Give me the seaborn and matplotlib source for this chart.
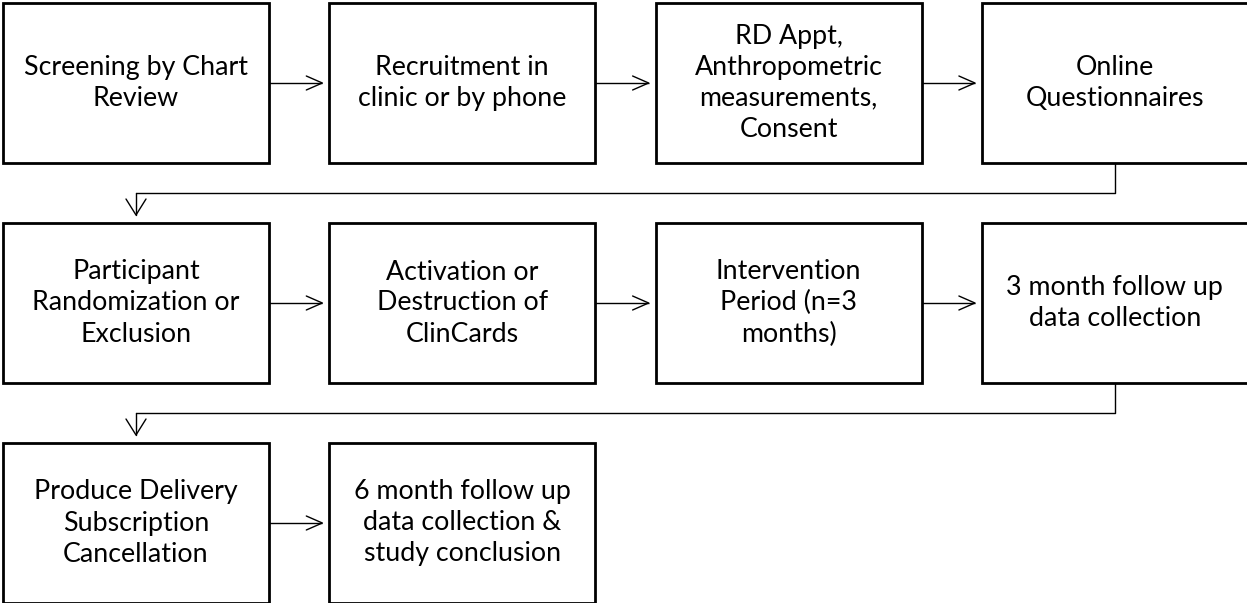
import matplotlib
matplotlib.use("Agg")
import matplotlib.pyplot as plt
from matplotlib.patches import Rectangle
import seaborn as sns

# Flowchart content
labels = [
    "Screening by Chart\nReview",
    "Recruitment in\nclinic or by phone",
    "RD Appt,\nAnthropometric\nmeasurements,\nConsent",
    "Online\nQuestionnaires",
    "Participant\nRandomization or\nExclusion",
    "Activation or\nDestruction of\nClinCards",
    "Intervention\nPeriod (n=3\nmonths)",
    "3 month follow up\ndata collection",
    "Produce Delivery\nSubscription\nCancellation",
    "6 month follow up\ndata collection &\nstudy conclusion",
]
rows = [0, 0, 0, 0, 1, 1, 1, 1, 2, 2]
cols = [0, 1, 2, 3, 0, 1, 2, 3, 0, 1]

sns.set_theme(style="white")
plt.rcParams['font.family'] = ['Lato', 'DejaVu Sans']

W, H = 1247, 603
fig = plt.figure(figsize=(W / 100, H / 100), dpi=100)
ax = fig.add_axes([0, 0, 1, 1])
ax.set_xlim(0, W)
ax.set_ylim(H, 0)
ax.axis("off")

x0, pitch_x, bw = 3, 326.3, 266
y0, pitch_y, bh = 3, 220, 160


def box_geom(r, c):
    x = x0 + c * pitch_x
    y = y0 + r * pitch_y
    return x, y


lw_arrow = 1.0
hl, hw = 16, 7


def arrow_right(xs, xe, y):
    ax.plot([xs, xe], [y, y], color="black", lw=lw_arrow, solid_capstyle="butt")
    ax.plot([xe - hl, xe, xe - hl], [y - hw, y, y + hw], color="black", lw=lw_arrow)


def arrow_down(x, ys, ye):
    ax.plot([x, x], [ys, ye], color="black", lw=lw_arrow)
    ax.plot([x - 10, x, x + 10], [ye - 16, ye, ye - 16], color="black", lw=lw_arrow)


for lab, r, c in zip(labels, rows, cols):
    x, y = box_geom(r, c)
    ax.add_patch(Rectangle((x, y), bw, bh, facecolor="white", edgecolor="black",
                           lw=2.0, zorder=2))
    ax.text(x + bw / 2, y + bh / 2, lab, ha="center", va="center", fontsize=19.3,
            color="black", linespacing=1.3, zorder=3)

n = len(labels)
for i in range(n - 1):
    r1, c1 = rows[i], cols[i]
    r2, c2 = rows[i + 1], cols[i + 1]
    xa, ya = box_geom(r1, c1)
    xb, yb = box_geom(r2, c2)
    if r1 == r2:
        arrow_right(xa + bw, xb - 7, ya + bh / 2)
    else:
        sx = xa + bw / 2
        tx = xb + bw / 2
        ymid = ya + bh + 30
        ax.plot([sx, sx, tx], [ya + bh, ymid, ymid], color="black", lw=lw_arrow)
        arrow_down(tx, ymid, yb - 8)

fig.savefig("out.png", dpi=100)
